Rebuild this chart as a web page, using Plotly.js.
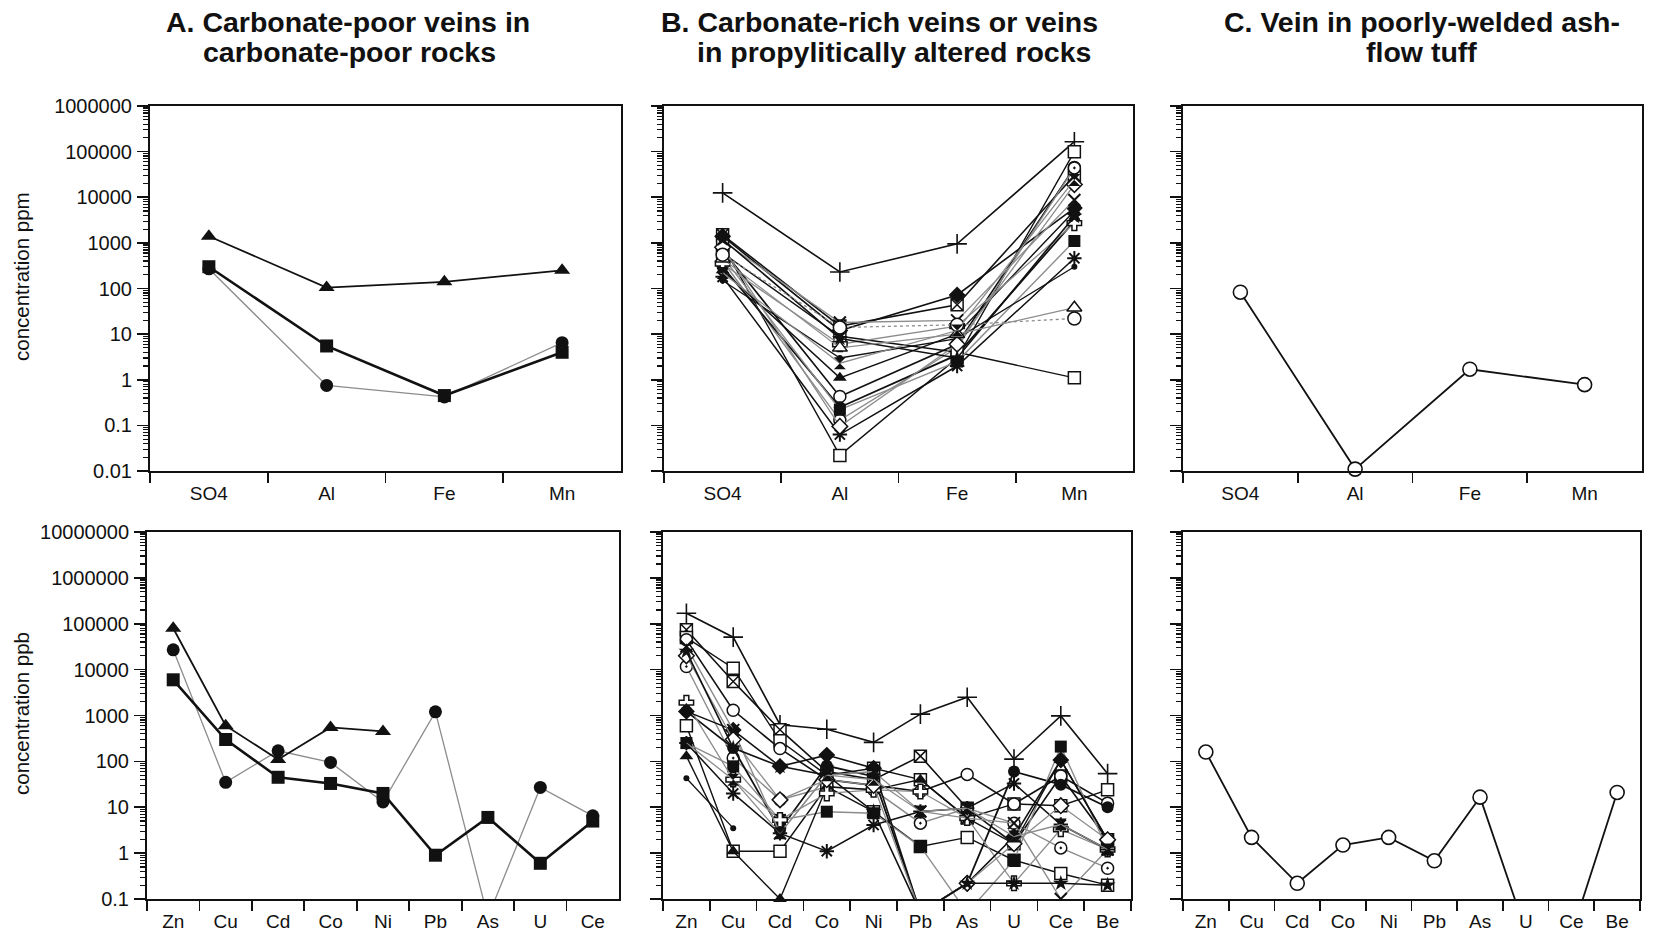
<!DOCTYPE html>
<html>
<head>
<meta charset="utf-8">
<script src="https://cdn.plot.ly/plotly-3.0.1.min.js"></script>
<style>html,body{margin:0;padding:0;background:#fff;}#chart{width:1654px;height:937px;}</style>
</head>
<body>
<div id="chart"></div>
<script>
// ---------------- DATA ----------------
const majorCats = ['SO4', 'Al', 'Fe', 'Mn'];
const traceCatsA = ['Zn', 'Cu', 'Cd', 'Co', 'Ni', 'Pb', 'As', 'U', 'Ce'];
const traceCatsBC = ['Zn', 'Cu', 'Cd', 'Co', 'Ni', 'Pb', 'As', 'U', 'Ce', 'Be'];

const topTickText = ['0.01', '0.1', '1', '10', '100', '1000', '10000', '100000', '1000000'];
const botTickText = ['0.1', '1', '10', '100', '1000', '10000', '100000', '1000000', '10000000'];

// Panel A (ppm, SO4 Al Fe Mn)
const aTopTriangle = [1400, 105, 140, 250];
const aTopSquare   = [300, 5.5, 0.45, 4];
const aTopCircle   = [270, 0.75, 0.42, 6.5];
// Panel A (ppb, Zn..Ce)
const aBotTriangle = [80000, 600, 110, 550, 450, null, null, null, null];
const aBotCircle   = [27000, 35, 170, 95, 13, 1200, 0.04, 27, 6.5];
const aBotSquare   = [6000, 300, 45, 33, 20, 0.9, 6, 0.6, 5];

// Panel B (ppm, SO4 Al Fe Mn)
const bTopPlus        = [12500, 230, 950, 165000];
const bTopXSquare     = [1500, 15, 44, 30000];
const bTopOpenSquare  = [900, 0.022, 3, 100000];
const bTopOpenCircle  = [700, 0.43, 6, 45000];
const bTopCircleDot   = [400, 0.13, 5, 44000];
const bTopCircle      = [300, 0.25, 3.5, 3000];
const bTopOpenSquare2 = [600, 9, 4, 1.1];
const bTopSquare      = [500, 0.22, 2.5, 1100];
const bTopTriangle    = [250, 1.1, 10, 5000];
const bTopSmallDot    = [150, 3, 8, 300];
const bTopOpenCross   = [350, 6, 15, 2700];
const bTopAsterisk    = [180, 0.063, 2, 460];
const bTopDiamond     = [1400, 12, 72, 5800];
const bTopX           = [1100, 18, 20, 8700];
const bTopOpenDiamond = [800, 0.095, 6, 19000];
const bTopStar        = [1200, 8, 3, 3800];
const bTopOpenTri     = [450, 5, 10, 38];
const bTopOpenCircle2 = [550, 14, 16, 22];
const bTopHourglass   = [220, 2.3, 12, 24000];

// Panel B (ppb, Zn..Be)
const bBotPlus        = [170000, 51000, 630, 500, 260, 1070, 2500, 112, 980, 54];
const bBotXSquare     = [74000, 5500, 490, 60, 40, 130, 9.5, 1.6, 48, 1.95];
const bBotOpenSquare  = [50000, 10700, 280, 50, 71, 40, 5.8, 11.8, 10.8, 24];
const bBotOpenCircle  = [45000, 1300, 190, 40, 30, 22, 52, 11.8, 48, 12.3];
const bBotCircleDot   = [11700, 118, 14.5, 28, 24, 4.5, 9.5, 4.5, 1.3, 0.47];
const bBotCircle      = [1230, 195, 3.2, 80, 47, 0.05, 0.22, 60, 31, 10];
const bBotOpenSquare2 = [600, 1.1, 1.1, 28, 8, 1.4, 2.2, 0.7, 0.36, 0.2];
const bBotSquare      = [250, 78, 5.3, 8, 7.4, 1.4, 0.05, 0.7, 210, 1.2];
const bBotTriangle    = [130, 1.1, 0.1, 28, 24, 40, 5.8, 1.6, 107, 1.95];
const bBotSmallDot    = [43, 3.5, null, null, null, null, null, null, null, null];
const bBotOpenCross   = [1900, 40, 5.3, 20, 24, 22, 5.8, 0.22, 3.3, 1.2];
const bBotAsterisk    = [250, 20, 2.7, 1.1, 4.1, 8.1, 9.5, 33, 4.2, 1.2];
const bBotDiamond     = [1230, 480, 78, 137, 71, 0.05, 0.22, 2.3, 107, 1.95];
const bBotX           = [32000, 480, 2.7, 50, 60, 8.1, 5.8, 4.5, 0.1, 1.2];
const bBotOpenDiamond = [20000, 300, 14.5, 40, 30, 0.05, 0.22, 1.6, 10.8, 1.95];
const bBotStar        = [25000, 195, 78, 50, 8, 0.05, 0.22, 0.22, 0.22, 0.2];
const bBotHourglass   = [250, 40, 2.7, 50, 40, 8.1, 9.5, 2.3, 4.2, 1.2];

// Panel C
const cTopCircle = [83, 0.011, 1.7, 0.78];
const cBotCircle = [160, 2.2, 0.22, 1.5, 2.2, 0.68, 16.6, 0.02, 0.017, 21];

// ---------------- STYLE ----------------
const FONT = '"Liberation Sans", Arial, Helvetica, sans-serif';
const BLACK = '#111';
const GRAY = '#8c8c8c';
const W = 1654, H = 937;

function px2x(p) { return p / W; }
function px2y(p) { return 1 - p / H; }

const traces = [];
function addTrace(cats, vals, ax, style) {
  const t = {
    type: 'scatter', mode: 'lines+markers',
    x: cats.slice(0, vals.length), y: vals,
    xaxis: 'x' + (ax === 1 ? '' : ax), yaxis: 'y' + (ax === 1 ? '' : ax),
    connectgaps: false,
    showlegend: false, hoverinfo: 'skip',
    line: { color: style.lc || BLACK, width: style.lw || 1.5, dash: style.dash || 'solid' },
    marker: {
      symbol: style.sym, size: style.size || 12,
      color: style.fill || BLACK,
      line: { color: BLACK, width: style.mlw == null ? 1.5 : style.mlw }
    },
    cliponaxis: style.clip == null ? true : style.clip
  };
  traces.push(t);
}

const sFilledTri = { sym: 'triangle-up', fill: BLACK, mlw: 0, size: 14 };
const sFilledSq = { sym: 'square', fill: BLACK, mlw: 0, size: 13 };
const sFilledCi = { sym: 'circle', fill: BLACK, mlw: 0, size: 13 };

// Panel A top
addTrace(majorCats, aTopCircle, 1, Object.assign({}, sFilledCi, { lc: GRAY, lw: 1.3, dash: 'solid' }));
addTrace(majorCats, aTopSquare, 1, Object.assign({}, sFilledSq, { lw: 2.6 }));
addTrace(majorCats, aTopTriangle, 1, Object.assign({}, sFilledTri, { lw: 1.8 }));
// Panel A bottom
addTrace(traceCatsA, aBotCircle, 4, Object.assign({}, sFilledCi, { lc: GRAY, lw: 1.3 }));
addTrace(traceCatsA, aBotSquare, 4, Object.assign({}, sFilledSq, { lw: 2.6 }));
addTrace(traceCatsA, aBotTriangle, 4, Object.assign({}, sFilledTri, { lw: 1.8 }));

// Panel B styles
const bStyles = [
  [bTopPlus, bBotPlus, { sym: 'cross-thin-open', size: 14, mlw: 1.6, lw: 1.6 }],
  [bTopXSquare, bBotXSquare, { sym: 'square-x', fill: '#fff', size: 12, lw: 1.6 }],
  [bTopOpenSquare, bBotOpenSquare, { sym: 'square', fill: '#fff', size: 12, lw: 1.4 }],
  [bTopOpenCircle, bBotOpenCircle, { sym: 'circle', fill: '#fff', size: 12, lw: 1.6, lc: BLACK }],
  [bTopCircleDot, bBotCircleDot, { sym: 'circle-dot', fill: '#fff', size: 12, lw: 1.4, lc: GRAY }],
  [bTopCircle, bBotCircle, { sym: 'circle', fill: BLACK, mlw: 0, size: 12, lw: 1.8 }],
  [bTopOpenSquare2, bBotOpenSquare2, { sym: 'square', fill: '#fff', size: 12, lw: 1.4 }],
  [bTopSquare, bBotSquare, { sym: 'square', fill: BLACK, mlw: 0, size: 12, lw: 1.4, lc: GRAY }],
  [bTopTriangle, bBotTriangle, { sym: 'triangle-up', fill: BLACK, mlw: 0, size: 12, lw: 1.4, clip: false }],
  [bTopSmallDot, bBotSmallDot, { sym: 'circle', fill: BLACK, mlw: 0, size: 6, lw: 1.3 }],
  [bTopOpenCross, bBotOpenCross, { sym: 'cross', fill: '#fff', size: 12, lw: 1.3, lc: GRAY }],
  [bTopAsterisk, bBotAsterisk, { sym: 'asterisk-open', size: 12, mlw: 2, lw: 1.5 }],
  [bTopDiamond, bBotDiamond, { sym: 'diamond', fill: BLACK, mlw: 0, size: 13, lw: 1.6 }],
  [bTopX, bBotX, { sym: 'x-thin-open', size: 12, mlw: 2, lw: 1.4, lc: GRAY }],
  [bTopOpenDiamond, bBotOpenDiamond, { sym: 'diamond', fill: '#fff', size: 12, lw: 1.3, lc: GRAY }],
  [bTopStar, bBotStar, { sym: 'star', fill: BLACK, mlw: 0, size: 12, lw: 1.6 }],
  [bTopOpenTri, null, { sym: 'triangle-up', fill: '#fff', size: 13, lw: 1.2, lc: GRAY }],
  [bTopOpenCircle2, null, { sym: 'circle', fill: '#fff', size: 13, lw: 1.3, lc: GRAY, dash: 'dot' }],
  [bTopHourglass, bBotHourglass, { sym: 'hourglass', fill: BLACK, mlw: 0, size: 12, lw: 1.3, lc: GRAY }]
];
bStyles.forEach(function (s) {
  addTrace(majorCats, s[0], 2, s[2]);
  if (s[1]) addTrace(traceCatsBC, s[1], 5, s[2]);
});

// Panel C
const sOpenC = { sym: 'circle', fill: '#fff', size: 14, mlw: 1.6, lw: 1.8, clip: false };
addTrace(majorCats, cTopCircle, 3, sOpenC);
addTrace(traceCatsBC, cBotCircle, 6, Object.assign({}, sOpenC, { clip: true }));

// ---------------- AXES ----------------
function decades(lo, hi) { const out = []; for (let e = lo; e <= hi; e++) out.push(Math.pow(10, e)); return out; }
function minors(lo, hi) { const out = []; for (let e = lo; e < hi; e++) for (let d = 2; d <= 9; d++) out.push(d * Math.pow(10, e)); return out; }

function yAxis(lo, hi, labels, showLabels) {
  return {
    type: 'log', range: [lo, hi], autorange: false,
    tickmode: 'array', tickvals: decades(lo, hi), ticktext: labels,
    showticklabels: showLabels,
    ticks: 'outside', ticklen: 11, tickwidth: 1.6, tickcolor: BLACK,
    ticklabelstandoff: 1,
    minor: { tickmode: 'array', tickvals: minors(lo, hi), ticks: 'outside', ticklen: 5, tickwidth: 1.2, tickcolor: BLACK, showgrid: false },
    showline: true, mirror: true, linecolor: BLACK, linewidth: 2,
    showgrid: false, zeroline: false,
    tickfont: { family: FONT, size: 20, color: BLACK }
  };
}
function xAxis(cats, dom, anchor) {
  return {
    type: 'category', categoryorder: 'array', categoryarray: cats,
    range: [-0.5, cats.length - 0.5], autorange: false,
    domain: dom, anchor: anchor,
    tickson: 'boundaries', ticks: 'outside', ticklen: 10, tickwidth: 1.8, tickcolor: BLACK,
    ticklabelstandoff: 4,
    showline: true, mirror: true, linecolor: BLACK, linewidth: 2,
    showgrid: false, zeroline: false,
    tickfont: { family: FONT, size: 19, color: BLACK }
  };
}

const topDom = [px2y(471), px2y(106)];
const botDom = [px2y(899), px2y(532)];

const layout = {
  width: W, height: H,
  margin: { l: 0, r: 0, t: 0, b: 0 },
  paper_bgcolor: '#fff', plot_bgcolor: '#fff',
  showlegend: false,
  font: { family: FONT, color: BLACK },
  xaxis: xAxis(majorCats, [px2x(150), px2x(621)], 'y'),
  xaxis2: xAxis(majorCats, [px2x(664), px2x(1133)], 'y2'),
  xaxis3: xAxis(majorCats, [px2x(1183), px2x(1642)], 'y3'),
  xaxis4: xAxis(traceCatsA, [px2x(147), px2x(619)], 'y4'),
  xaxis5: xAxis(traceCatsBC, [px2x(663), px2x(1131)], 'y5'),
  xaxis6: xAxis(traceCatsBC, [px2x(1183), px2x(1640)], 'y6'),
  yaxis: Object.assign(yAxis(-2, 6, topTickText, true), { domain: topDom, anchor: 'x' }),
  yaxis2: Object.assign(yAxis(-2, 6, topTickText, false), { domain: topDom, anchor: 'x2' }),
  yaxis3: Object.assign(yAxis(-2, 6, topTickText, false), { domain: topDom, anchor: 'x3' }),
  yaxis4: Object.assign(yAxis(-1, 7, botTickText, true), { domain: botDom, anchor: 'x4' }),
  yaxis5: Object.assign(yAxis(-1, 7, botTickText, false), { domain: botDom, anchor: 'x5' }),
  yaxis6: Object.assign(yAxis(-1, 7, botTickText, false), { domain: botDom, anchor: 'x6' }),
  annotations: []
};

function titleLine(text, xpx, ypx) {
  layout.annotations.push({
    text: text, xref: 'paper', yref: 'paper', x: px2x(xpx), y: px2y(ypx),
    xanchor: 'center', yanchor: 'middle', showarrow: false,
    font: { family: FONT, size: 28.5, color: BLACK, weight: 'bold' }
  });
}
titleLine('<b>A. Carbonate-poor veins in</b>', 348, 22);
titleLine('<b>carbonate-poor rocks</b>', 349, 52);
titleLine('<b>B. Carbonate-rich veins or veins</b>', 879, 22);
titleLine('<b>in propylitically altered rocks</b>', 894, 52);
titleLine('<b>C. Vein in poorly-welded ash-</b>', 1422, 22);
titleLine('<b>flow tuff</b>', 1421, 52);

function yTitle(text, ypx) {
  layout.annotations.push({
    text: text, xref: 'paper', yref: 'paper', x: px2x(21), y: px2y(ypx),
    xanchor: 'center', yanchor: 'middle', textangle: -90, showarrow: false,
    font: { family: FONT, size: 20.5, color: BLACK }
  });
}
yTitle('concentration ppm', 277);
yTitle('concentration ppb', 714);

Plotly.newPlot('chart', traces, layout, { staticPlot: true, displayModeBar: false });
</script>
</body>
</html>
